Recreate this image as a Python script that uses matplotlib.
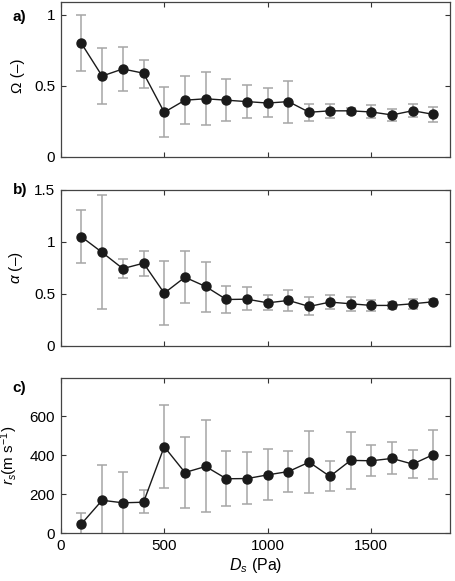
import numpy as np
import matplotlib
matplotlib.use('Agg')
import matplotlib.pyplot as plt

plt.rcParams['font.family'] = ['Liberation Sans', 'DejaVu Sans']
plt.rcParams['mathtext.fontset'] = 'custom'
plt.rcParams['mathtext.rm'] = 'Liberation Sans'
plt.rcParams['mathtext.it'] = 'Liberation Sans:italic'
plt.rcParams['font.size'] = 10.5

# D_s (Pa)
ds = [100, 200, 300, 400, 500, 600, 700, 800, 900, 1000,
      1100, 1200, 1300, 1400, 1500, 1600, 1700, 1800]

# a) Omega
omega = [0.80, 0.57, 0.62, 0.59, 0.315, 0.40, 0.41, 0.40, 0.39, 0.38,
         0.39, 0.315, 0.325, 0.325, 0.317, 0.296, 0.326, 0.30]
omega_hi = [1.00, 0.77, 0.775, 0.68, 0.49, 0.573, 0.596, 0.552, 0.509, 0.484,
            0.533, 0.376, 0.376, 0.347, 0.364, 0.340, 0.371, 0.354]
omega_lo = [0.608, 0.371, 0.462, 0.486, 0.138, 0.232, 0.223, 0.251, 0.275, 0.284,
            0.242, 0.256, 0.275, 0.300, 0.272, 0.256, 0.282, 0.246]

# b) alpha
alpha = [1.05, 0.90, 0.744, 0.796, 0.508, 0.661, 0.572, 0.447, 0.45, 0.415,
         0.438, 0.38, 0.422, 0.406, 0.39, 0.39, 0.406, 0.425]
alpha_hi = [1.307, 1.454, 0.834, 0.911, 0.818, 0.911, 0.812, 0.581, 0.569, 0.495,
            0.543, 0.473, 0.492, 0.473, 0.441, 0.422, 0.454, 0.447]
alpha_lo = [0.796, 0.355, 0.655, 0.677, 0.204, 0.409, 0.329, 0.313, 0.342, 0.345,
            0.332, 0.294, 0.355, 0.335, 0.339, 0.355, 0.358, 0.403]

# c) r_s (m s-1)
rs = [48, 169, 156, 159, 443, 311, 342, 279, 280, 299,
      316, 364, 291, 373, 371, 383, 354, 403]
rs_hi = [104, 350, 316, 220, 656, 494, 578, 421, 414, 431,
         421, 523, 368, 516, 451, 465, 424, 528]
rs_lo = [-8, -12, -4, 103, 231, 130, 109, 140, 150, 168,
         212, 205, 215, 227, 292, 301, 282, 279]

fig = plt.figure(figsize=(4.55, 5.81), dpi=100)
left, width = 0.1334, 0.8556
ax_a = fig.add_axes([left, 0.7298, width, 0.2676])
ax_b = fig.add_axes([left, 0.4045, width, 0.2685])
ax_c = fig.add_axes([left, 0.0821, width, 0.2678])


def panel(ax, y, hi, lo, ylim, yticks, yticklabels):
    y = np.array(y)
    err = [y - np.array(lo), np.array(hi) - y]
    ax.errorbar(ds, y, yerr=err, fmt='none', ecolor='#a6a6a6', elinewidth=1.1,
                capsize=3.5, capthick=1.1, zorder=1)
    ax.plot(ds, y, '-o', color='#1a1a1a', lw=1.0, ms=6.5, zorder=3)
    ax.set_xlim(0, 1880)
    ax.set_ylim(*ylim)
    ax.set_xticks([0, 500, 1000, 1500])
    ax.set_yticks(yticks)
    ax.set_yticklabels(yticklabels)
    ax.tick_params(direction='in', top=True, right=True, length=3.5,
                   width=0.8, color='#333333', pad=4, labelsize=11)
    for s in ax.spines.values():
        s.set_color('#444444')
        s.set_linewidth(0.9)


panel(ax_a, omega, omega_hi, omega_lo, (0, 1.095), [0, 0.5, 1], ['0', '0.5', '1'])
panel(ax_b, alpha, alpha_hi, alpha_lo, (0, 1.5), [0, 0.5, 1, 1.5], ['0', '0.5', '1', '1.5'])
panel(ax_c, rs, rs_hi, rs_lo, (0, 796), [0, 200, 400, 600], ['0', '200', '400', '600'])
ax_a.set_xticklabels([])
ax_b.set_xticklabels([])

ax_a.set_ylabel('Ω (–)', fontsize=11)
ax_b.set_ylabel(r'$\alpha$ (–)', fontsize=11)
ax_c.set_ylabel(r'$r_s$(m s$^{-1}$)', fontsize=11)
ax_c.set_xlabel(r'$D_s$ (Pa)', fontsize=11.5, labelpad=2)
ax_a.yaxis.set_label_coords(-0.092, 0.52)
ax_b.yaxis.set_label_coords(-0.092, 0.5)
ax_c.yaxis.set_label_coords(-0.104, 0.5)

fig.text(0.028, 0.963, 'a)', fontsize=11, fontweight='bold')
fig.text(0.028, 0.666, 'b)', fontsize=11, fontweight='bold')
fig.text(0.028, 0.325, 'c)', fontsize=11, fontweight='bold')

fig.savefig('out.png', dpi=100)
